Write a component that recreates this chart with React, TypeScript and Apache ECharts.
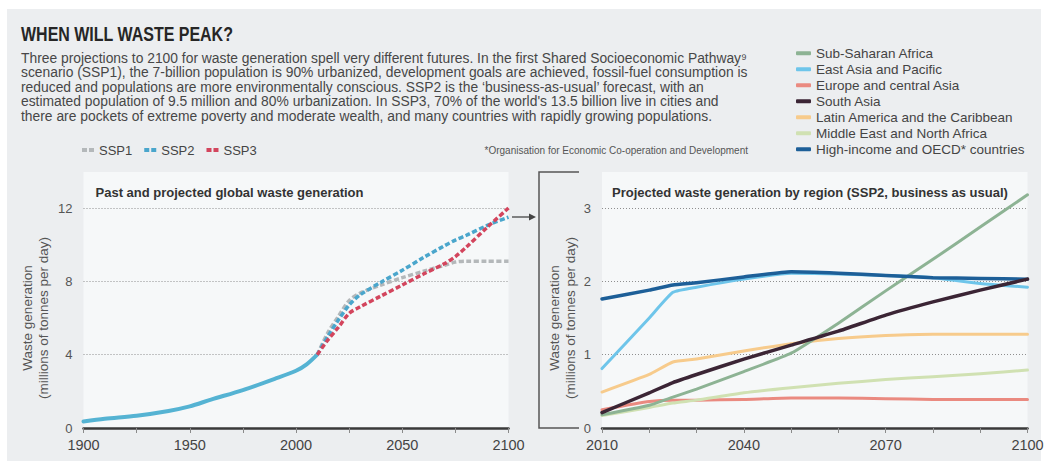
import React, { useEffect, useRef } from "react";
import * as echarts from "echarts";

// ---------- Data ----------
const histYears = [1900, 1910, 1925, 1940, 1950, 1960, 1975, 1990, 2000, 2005, 2010];
const histValues = [0.35, 0.5, 0.67, 0.93, 1.18, 1.55, 2.07, 2.68, 3.12, 3.47, 4.0];

const projYears = [2010, 2015, 2020, 2025, 2030, 2040, 2050, 2060, 2070, 2075, 2080, 2090, 2100];
const ssp1 = [4.0, 5.2, 6.1, 6.95, 7.35, 7.8, 8.2, 8.55, 8.88, 9.05, 9.1, 9.1, 9.1];
const ssp2 = [4.0, 5.0, 5.9, 6.7, 7.25, 7.95, 8.6, 9.3, 9.95, 10.25, 10.5, 11.05, 11.5];
const ssp3 = [4.0, 4.8, 5.5, 6.25, 6.6, 7.2, 7.8, 8.4, 8.97, 9.35, 9.85, 10.95, 12.0];

const regionYears = [2010, 2020, 2025, 2030, 2040, 2050, 2060, 2070, 2080, 2090, 2100];
const subSaharan = [0.18, 0.31, 0.42, 0.53, 0.77, 1.02, 1.43, 1.87, 2.3, 2.74, 3.18];
const eastAsia = [0.81, 1.5, 1.85, 1.92, 2.03, 2.11, 2.1, 2.08, 2.05, 1.97, 1.92];
const europeCA = [0.25, 0.36, 0.38, 0.38, 0.39, 0.41, 0.41, 0.4, 0.39, 0.39, 0.39];
const southAsia = [0.21, 0.48, 0.62, 0.73, 0.94, 1.13, 1.32, 1.54, 1.72, 1.88, 2.03];
const latinAm = [0.49, 0.73, 0.9, 0.94, 1.05, 1.15, 1.22, 1.26, 1.28, 1.28, 1.28];
const mena = [0.17, 0.28, 0.34, 0.38, 0.48, 0.55, 0.61, 0.66, 0.7, 0.74, 0.79];
const highIncome = [1.76, 1.88, 1.95, 1.98, 2.06, 2.13, 2.11, 2.08, 2.05, 2.04, 2.03];

const sspNames = ["SSP1", "SSP2", "SSP3"];
const regionNames = [
  "Sub-Saharan Africa",
  "East Asia and Pacific",
  "Europe and central Asia",
  "South Asia",
  "Latin America and the Caribbean",
  "Middle East and North Africa",
  "High-income and OECD* countries",
];

const leftXTicks = [1900, 1950, 2000, 2050, 2100];
const rightXTicks = [2010, 2040, 2070, 2100];

const bodyLines = [
  "Three projections to 2100 for waste generation spell very different futures. In the first Shared Socioeconomic Pathway\u2079",
  "scenario (SSP1), the 7-billion population is 90% urbanized, development goals are achieved, fossil-fuel consumption is",
  "reduced and populations are more environmentally conscious. SSP2 is the \u2018business-as-usual\u2019 forecast, with an",
  "estimated population of 9.5 million and 80% urbanization. In SSP3, 70% of the world's 13.5 billion live in cities and",
  "there are pockets of extreme poverty and moderate wealth, and many countries with rapidly growing populations.",
];

const FONT = '"Liberation Sans", Arial, sans-serif';

const xy = (xs: number[], ys: number[]) => xs.map((x, i) => [x, ys[i]]);

export default function App() {
  const ref = useRef<HTMLDivElement>(null);

  useEffect(() => {
    if (!ref.current) return;
    const chart = echarts.init(ref.current, null, { renderer: "svg" });

    const yNameStyle = { fontSize: 13.5, color: "#555", fontFamily: FONT, lineHeight: 16 };
    const xAxisCommon = {
      type: "value" as const,
      axisLine: { show: true, lineStyle: { color: "#3a3a3a", width: 2.5 } },
      axisTick: { show: true, length: 5, lineStyle: { color: "#8a8a8a", width: 1 } },
      splitLine: { show: false },
      axisLabel: { fontSize: 14.5, color: "#444", fontFamily: FONT, margin: 9 },
    };
    const yAxisCommon = {
      type: "value" as const,
      min: 0,
      axisLine: { show: false },
      axisTick: { show: false },
      splitLine: { show: true, lineStyle: { type: [1, 2], color: "#8f8f8f", width: 1 } },
      axisLabel: { fontSize: 13, color: "#555", fontFamily: FONT, margin: 11 },
      nameLocation: "middle" as const,
      nameRotate: 90,
      nameTextStyle: yNameStyle,
      name: "Waste generation\n(millions of tonnes per day)",
    };

    const sspDash = [5, 2.5];
    const regionSeries = [
      { name: regionNames[2], data: europeCA, color: "#ea8a80", w: 3 },
      { name: regionNames[5], data: mena, color: "#d0e1b2", w: 3 },
      { name: regionNames[4], data: latinAm, color: "#f7cb8c", w: 3 },
      { name: regionNames[0], data: subSaharan, color: "#8db394", w: 3 },
      { name: regionNames[1], data: eastAsia, color: "#6ec5ea", w: 3 },
      { name: regionNames[6], data: highIncome, color: "#1d5f98", w: 3.5 },
      { name: regionNames[3], data: southAsia, color: "#3b2535", w: 3.5 },
    ].map((s) => ({
      name: s.name,
      type: "line" as const,
      xAxisIndex: 1,
      yAxisIndex: 1,
      data: xy(regionYears, s.data),
      symbol: "none",
      smooth: 0.15,
      clip: false,
      color: s.color,
      lineStyle: { color: s.color, width: s.w, cap: "round" as const, join: "round" as const },
    }));

    const option: any = {
      animation: false,
      backgroundColor: "#ffffff",
      grid: [
        { left: 83.5, top: 208, width: 425, height: 220, containLabel: false },
        { left: 602, top: 208, width: 425.5, height: 220, containLabel: false },
      ],
      xAxis: [
        {
          ...xAxisCommon,
          gridIndex: 0,
          min: 1900,
          max: 2100,
          interval: 25,
          axisLabel: {
            ...xAxisCommon.axisLabel,
            formatter: (v: number) => (leftXTicks.includes(v) ? String(v) : ""),
          },
        },
        {
          ...xAxisCommon,
          gridIndex: 1,
          min: 2010,
          max: 2100,
          interval: 10,
          axisLabel: {
            ...xAxisCommon.axisLabel,
            formatter: (v: number) => (rightXTicks.includes(v) ? String(v) : ""),
          },
        },
      ],
      yAxis: [
        { ...yAxisCommon, gridIndex: 0, max: 12, interval: 4, nameGap: 32 },
        { ...yAxisCommon, gridIndex: 1, max: 3, interval: 1, nameGap: 23.5 },
      ],
      legend: [
        {
          data: sspNames,
          orient: "horizontal",
          left: 82,
          top: 143,
          padding: 0,
          itemWidth: 12,
          itemHeight: 4,
          itemGap: 12,
          icon: "path://M0,0H5V4H0Z M7,0H12V4H7Z",
          itemStyle: { borderWidth: 0 },
          textStyle: { fontSize: 13, color: "#444", fontFamily: FONT, lineHeight: 14 },
          selectedMode: false,
        },
        {
          data: regionNames,
          orient: "vertical",
          left: 796,
          top: 46.3,
          padding: 0,
          itemWidth: 15,
          itemHeight: 4,
          itemGap: 2,
          icon: "roundRect",
          itemStyle: { borderWidth: 0 },
          textStyle: { fontSize: 13.5, color: "#444", fontFamily: FONT, lineHeight: 14 },
          selectedMode: false,
        },
      ],
      graphic: [
        { type: "rect", z: -20, silent: true, shape: { x: 7, y: 9, width: 1034, height: 452 }, style: { fill: "#eceef0" } },
        { type: "rect", z: -10, silent: true, shape: { x: 83.5, y: 172, width: 425, height: 256 }, style: { fill: "#f6f8f9" } },
        { type: "rect", z: -10, silent: true, shape: { x: 602, y: 172, width: 425.5, height: 256 }, style: { fill: "#f6f8f9" } },
        {
          type: "text",
          x: 21,
          y: 33.5,
          scaleX: 0.78,
          style: {
            text: "WHEN WILL WASTE PEAK?",
            fontSize: 20.5,
            fontWeight: "bold",
            fontFamily: FONT,
            fill: "#262626",
            verticalAlign: "middle",
          },
        },
        {
          type: "text",
          x: 21,
          y: 50.5,
          style: {
            text: bodyLines.join("\n"),
            fontSize: 13.85,
            lineHeight: 14.5,
            fontFamily: FONT,
            fill: "#474747",
            verticalAlign: "top",
          },
        },
        {
          type: "text",
          x: 748,
          y: 150,
          style: {
            text: "*Organisation for Economic Co-operation and Development",
            fontSize: 10,
            fontFamily: FONT,
            fill: "#555",
            align: "right",
            verticalAlign: "middle",
          },
        },
        {
          type: "text",
          x: 95.5,
          y: 192,
          style: {
            text: "Past and projected global waste generation",
            fontSize: 13,
            fontWeight: "bold",
            fontFamily: FONT,
            fill: "#333",
            verticalAlign: "middle",
          },
        },
        {
          type: "text",
          x: 612,
          y: 192,
          style: {
            text: "Projected waste generation by region (SSP2, business as usual)",
            fontSize: 13,
            fontWeight: "bold",
            fontFamily: FONT,
            fill: "#333",
            verticalAlign: "middle",
          },
        },
        {
          type: "polyline",
          shape: { points: [[579, 172], [539, 172], [539, 428], [579, 428]] },
          style: { stroke: "#555", lineWidth: 1.5, fill: "none" },
        },
        {
          type: "line",
          shape: { x1: 512, y1: 217, x2: 530, y2: 217 },
          style: { stroke: "#444", lineWidth: 1.3 },
        },
        {
          type: "polygon",
          shape: { points: [[529, 213.5], [536, 217], [529, 220.5]] },
          style: { fill: "#444" },
        },
      ],
      series: [
        {
          name: "History",
          type: "line",
          xAxisIndex: 0,
          yAxisIndex: 0,
          data: xy(histYears, histValues),
          symbol: "none",
          smooth: 0.3,
          clip: false,
          color: "#55b3d3",
          lineStyle: { color: "#55b3d3", width: 4, cap: "round" },
        },
        {
          name: "SSP1",
          type: "line",
          xAxisIndex: 0,
          yAxisIndex: 0,
          data: xy(projYears, ssp1),
          symbol: "none",
          smooth: 0.3,
          clip: false,
          color: "#b4b8ba",
          lineStyle: { color: "#b4b8ba", width: 3.5, type: sspDash },
        },
        {
          name: "SSP2",
          type: "line",
          xAxisIndex: 0,
          yAxisIndex: 0,
          data: xy(projYears, ssp2),
          symbol: "none",
          smooth: 0.3,
          clip: false,
          color: "#4aa6cc",
          lineStyle: { color: "#4aa6cc", width: 3.5, type: sspDash },
        },
        {
          name: "SSP3",
          type: "line",
          xAxisIndex: 0,
          yAxisIndex: 0,
          data: xy(projYears, ssp3),
          symbol: "none",
          smooth: 0.3,
          clip: false,
          color: "#d3455d",
          lineStyle: { color: "#d3455d", width: 3.5, type: sspDash },
        },
        ...regionSeries,
      ],
    };

    chart.setOption(option);
    return () => chart.dispose();
  }, []);

  return (
    <div
      ref={ref}
      style={{ position: "fixed", left: 0, top: 0, width: 1049, height: 461 }}
    />
  );
}
